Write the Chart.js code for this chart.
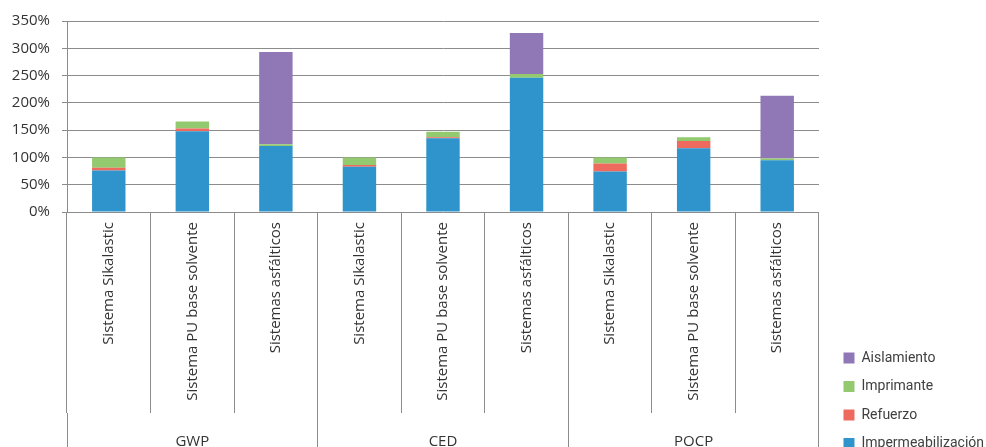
<!DOCTYPE html>
<html>
<head>
<meta charset="utf-8">
<script src="https://cdn.jsdelivr.net/npm/chart.js@4.4.1/dist/chart.umd.min.js"></script>
<style>
  html, body { margin: 0; padding: 0; background: #fff; overflow: hidden; }
  #wrap { position: absolute; left: 0; top: 0; width: 994px; height: 481px; }
</style>
</head>
<body>
<div id="wrap"><canvas id="chart"></canvas></div>
<script>
// categories (3 systems repeated per indicator) and indicator groups
const categories = [
  'Sistema Sikalastic', 'Sistema PU base solvente', 'Sistemas asfálticos',
  'Sistema Sikalastic', 'Sistema PU base solvente', 'Sistemas asfálticos',
  'Sistema Sikalastic', 'Sistema PU base solvente', 'Sistemas asfálticos'
];
const groups = ['GWP', 'CED', 'POCP'];

// stacked values, % relative to Sistema Sikalastic
const impermeabilizacion = [76, 148, 121, 83, 135, 246, 74, 117, 95];
const refuerzo = [5, 5, 0, 3, 2, 0, 15, 13, 0];
const imprimante = [19, 13, 3, 14, 10, 7, 11, 7, 3];
const aislamiento = [0, 0, 169, 0, 0, 75, 0, 0, 115];

const yTicks = [0, 50, 100, 150, 200, 250, 300, 350];

const gridColor = '#8c8c8c';
const textColor = '#333333';
const tickFont = { family: 'Open Sans', size: 15 };

const ctx = document.getElementById('chart');
new Chart(ctx, {
  type: 'bar',
  data: {
    labels: categories,
    datasets: [
      { label: 'Impermeabilización', data: impermeabilizacion, backgroundColor: '#2e94cb' },
      { label: 'Refuerzo', data: refuerzo, backgroundColor: '#ee6a5f' },
      { label: 'Imprimante', data: imprimante, backgroundColor: '#93c96f' },
      { label: 'Aislamiento', data: aislamiento, backgroundColor: '#8f78b5' }
    ]
  },
  options: {
    responsive: true,
    maintainAspectRatio: false,
    animation: false,
    categoryPercentage: 1,
    barPercentage: 0.4,
    layout: { padding: { top: 18, left: 0, right: 0, bottom: 16 } },
    plugins: {
      tooltip: { enabled: false },
      legend: {
        position: 'right',
        align: 'end',
        reverse: true,
        labels: {
          boxWidth: 11,
          boxHeight: 11,
          padding: 14.5,
          color: '#404040',
          font: { family: 'Roboto', size: 14 }
        }
      }
    },
    scales: {
      // system names: long tick marks act as the separators under the plot
      x: {
        stacked: true,
        grid: { drawOnChartArea: false, offset: true, tickLength: 201, color: gridColor },
        border: { display: false },
        ticks: {
          autoSkip: false,
          minRotation: 90,
          maxRotation: 90,
          padding: -191,
          color: textColor,
          font: tickFont
        },
        afterFit: (s) => { s.height = 201; }
      },
      // indicator groups below the system names
      x2: {
        type: 'category',
        labels: groups,
        position: 'bottom',
        offset: true,
        grid: { drawOnChartArea: false, offset: true, tickLength: 70, color: gridColor },
        border: { display: false },
        ticks: { padding: -50, color: textColor, font: tickFont },
        afterFit: (s) => { s.height = 52; }
      },
      y: {
        stacked: true,
        min: 0,
        max: 350,
        afterBuildTicks: (s) => { s.ticks = yTicks.map(v => ({ value: v })); },
        ticks: { padding: 12, color: textColor, font: tickFont, callback: (v) => v + '%' },
        grid: { color: gridColor, tickLength: 5 },
        border: { color: gridColor },
        afterFit: (s) => { s.width = 67; }
      },
      gap: {
        type: 'linear',
        position: 'right',
        grid: { display: false },
        ticks: { display: false },
        border: { display: false },
        afterFit: (s) => { s.width = 10; }
      }
    }
  }
});
</script>
</body>
</html>
